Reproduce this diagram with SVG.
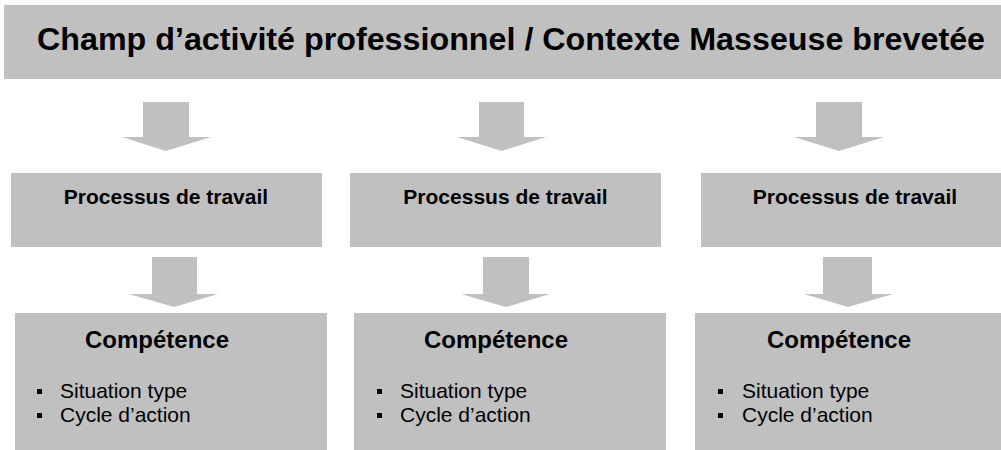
<svg xmlns="http://www.w3.org/2000/svg" width="1001" height="450" viewBox="0 0 1001 450">
<style>
.box{fill:#c0c0c0}
.arr{fill:#c0c0c0}
.t{font-family:"Liberation Sans",Arial,sans-serif;fill:#000}
.title{font-size:32px;font-weight:bold;text-anchor:middle}
.proc{font-size:21px;font-weight:bold;text-anchor:middle}
.comp{font-size:24px;font-weight:bold;text-anchor:middle}
.item{font-size:21px}
.bul{fill:#000}
</style>
<rect width="1001" height="450" fill="#ffffff"/>
<g id="title">
<rect class="box" x="4" y="5" width="997" height="74"/>
<text class="t title" x="511" y="50" textLength="948" lengthAdjust="spacingAndGlyphs">Champ d’activité professionnel / Contexte Masseuse brevetée</text>
</g>
<g id="connectors">
<path class="arr" d="M143,102 H189 V137 H211 L166,151 L122,137 H143 Z"/>
<path class="arr" d="M479,102 H524 V137 H546 L501.5,151 L457,137 H479 Z"/>
<path class="arr" d="M816,102 H862 V137 H884 L839,151 L794,137 H816 Z"/>
<path class="arr" d="M152,257 H197 V294 H218 L174,307 L129,294 H152 Z"/>
<path class="arr" d="M483,257 H529 V294 H550 L506,307 L461,294 H483 Z"/>
<path class="arr" d="M823,257 H872 V294 H893 L848,307 L804,294 H823 Z"/>
</g>
<g id="proc1">
<rect class="box" x="11" y="173" width="311" height="74"/>
<text class="t proc" x="166" y="204">Processus de travail</text>
</g>
<g id="proc2">
<rect class="box" x="350" y="173" width="311" height="74"/>
<text class="t proc" x="505.5" y="204">Processus de travail</text>
</g>
<g id="proc3">
<rect class="box" x="701" y="173" width="300" height="74"/>
<text class="t proc" x="855" y="204">Processus de travail</text>
</g>
<g id="comp1">
<rect class="box" x="15" y="313" width="312" height="137"/>
<text class="t comp" x="157" y="348">Compétence</text>
<rect class="bul" x="37" y="389" width="5" height="5"/>
<rect class="bul" x="37" y="413" width="5" height="5"/>
<text class="t item" x="60" y="398">Situation type</text>
<text class="t item" x="60" y="422">Cycle d’action</text>
</g>
<g id="comp2">
<rect class="box" x="354" y="313" width="312" height="137"/>
<text class="t comp" x="496" y="348">Compétence</text>
<rect class="bul" x="377" y="389" width="5" height="5"/>
<rect class="bul" x="377" y="413" width="5" height="5"/>
<text class="t item" x="400" y="398">Situation type</text>
<text class="t item" x="400" y="422">Cycle d’action</text>
</g>
<g id="comp3">
<rect class="box" x="695" y="313" width="306" height="137"/>
<text class="t comp" x="839" y="348">Compétence</text>
<rect class="bul" x="718" y="389" width="5" height="5"/>
<rect class="bul" x="718" y="413" width="5" height="5"/>
<text class="t item" x="742" y="398">Situation type</text>
<text class="t item" x="742" y="422">Cycle d’action</text>
</g>
</svg>
